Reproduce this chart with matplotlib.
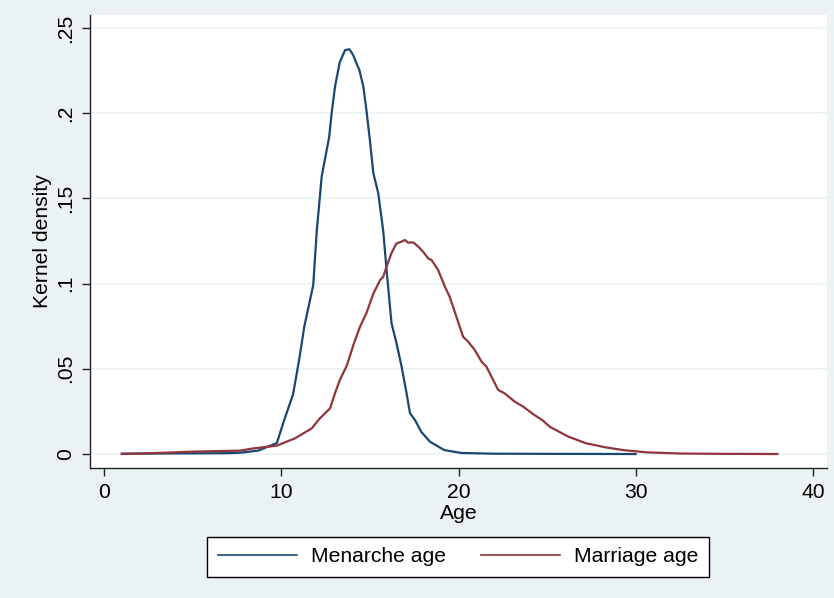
import matplotlib
matplotlib.use("Agg")
import matplotlib.pyplot as plt
from matplotlib.ticker import FixedLocator

# Data
menarche_x = [1, 3, 5, 7, 7.7, 8.7, 9.75, 10.1, 10.66, 11.0, 11.3, 11.8, 12.0, 12.28, 12.7,
              12.84, 13.03, 13.3, 13.6, 13.84, 14.06, 14.25, 14.4, 14.63, 14.8, 15.0, 15.19,
              15.47, 15.75, 15.94, 16.22, 16.5, 16.79, 17.07, 17.26, 17.54, 17.9, 18.39, 19.2,
              20.17, 22, 25, 30]
menarche_y = [0.0002, 0.0003, 0.0004, 0.0005, 0.0008, 0.002, 0.0065, 0.018, 0.035, 0.055,
              0.075, 0.099, 0.131, 0.163, 0.186, 0.200, 0.2156, 0.230, 0.237, 0.2375, 0.234,
              0.229, 0.2254, 0.2156, 0.202, 0.184, 0.165, 0.153, 0.131, 0.108, 0.0767, 0.065,
              0.0512, 0.0356, 0.024, 0.020, 0.013, 0.0072, 0.0023, 0.0006, 0.0002, 0.0001, 0.0]

marriage_x = [1, 3, 5, 7.67, 8.42, 9.74, 10.77, 11.71, 12.18, 12.75, 13.03, 13.3, 13.7, 14.1,
              14.44, 14.8, 15.19, 15.57, 15.75, 15.94, 16.22, 16.5, 16.79, 16.97, 17.16, 17.44,
              17.73, 18.0, 18.29, 18.48, 18.85, 19.23, 19.5, 19.88, 20.26, 20.54, 20.92, 21.3,
              21.58, 21.86, 22.24, 22.6, 23.18, 23.65, 24.2, 24.78, 25.15, 26.2, 27.2, 28.26,
              29.3, 30.6, 32.5, 35, 38]
marriage_y = [0.0, 0.0006, 0.0014, 0.002, 0.0033, 0.0049, 0.0092, 0.015, 0.021, 0.0268,
              0.0357, 0.0434, 0.052, 0.065, 0.0747, 0.0826, 0.094, 0.102, 0.104, 0.110, 0.118,
              0.1236, 0.1246, 0.1256, 0.124, 0.1242, 0.1217, 0.1187, 0.1148, 0.1138, 0.108,
              0.0982, 0.0923, 0.0806, 0.0688, 0.066, 0.061, 0.0542, 0.0512, 0.0454, 0.0376,
              0.0356, 0.0307, 0.0278, 0.0235, 0.0195, 0.016, 0.0102, 0.0063, 0.004, 0.0023,
              0.001, 0.0003, 0.0001, 0.0]

x_ticks = [0, 10, 20, 30, 40]
y_ticks = [0, 0.05, 0.1, 0.15, 0.2, 0.25]
y_tick_labels = ["0", ".05", ".1", ".15", ".2", ".25"]
series_labels = ["Menarche age", "Marriage age"]

plt.rcParams['font.family'] = ['Liberation Sans', 'DejaVu Sans']
FS = 15.2
BG = "#EAF2F3"
NAVY = "#1a476f"
MAROON = "#90353b"

fig = plt.figure(figsize=(8.34, 5.98), dpi=100, facecolor=BG)
ax = fig.add_axes([90/834, 1 - 468/598, (827 - 90)/834, (468 - 15)/598])
ax.set_facecolor("white")

ax.plot(menarche_x, menarche_y, color=NAVY, lw=1.6, label=series_labels[0], zorder=3)
ax.plot(marriage_x, marriage_y, color=MAROON, lw=1.6, label=series_labels[1], zorder=3)

ax.set_xlim(-0.8, 40.8)
ax.set_ylim(-0.0082, 0.2576)
ax.xaxis.set_major_locator(FixedLocator(x_ticks))
ax.set_yticks(y_ticks)
ax.set_yticklabels(y_tick_labels, rotation=90, va="center")
ax.tick_params(axis="both", direction="out", length=6, width=1, color="#222222",
               labelsize=FS, pad=5)
ax.grid(axis="y", color=BG, lw=1.2, zorder=0)
ax.set_axisbelow(True)

for s in ["top", "right"]:
    ax.spines[s].set_visible(False)
for s in ["left", "bottom"]:
    ax.spines[s].set_color("#222222")
    ax.spines[s].set_linewidth(1.0)

ax.set_xlabel("Age", fontsize=FS, labelpad=1)
ax.set_ylabel("Kernel density", fontsize=FS, labelpad=3)

leg = fig.legend(loc="center", bbox_to_anchor=(458/834, 1 - 557/598), ncol=2,
                 fontsize=FS, frameon=True, fancybox=False, framealpha=1,
                 edgecolor="black", handlelength=3.75, handletextpad=0.66,
                 columnspacing=1.66, borderpad=0.5)
leg.get_frame().set_linewidth(1.0)
for h in leg.get_lines():
    h.set_linewidth(1.2)

fig.savefig("out.png", dpi=100, facecolor=BG)
